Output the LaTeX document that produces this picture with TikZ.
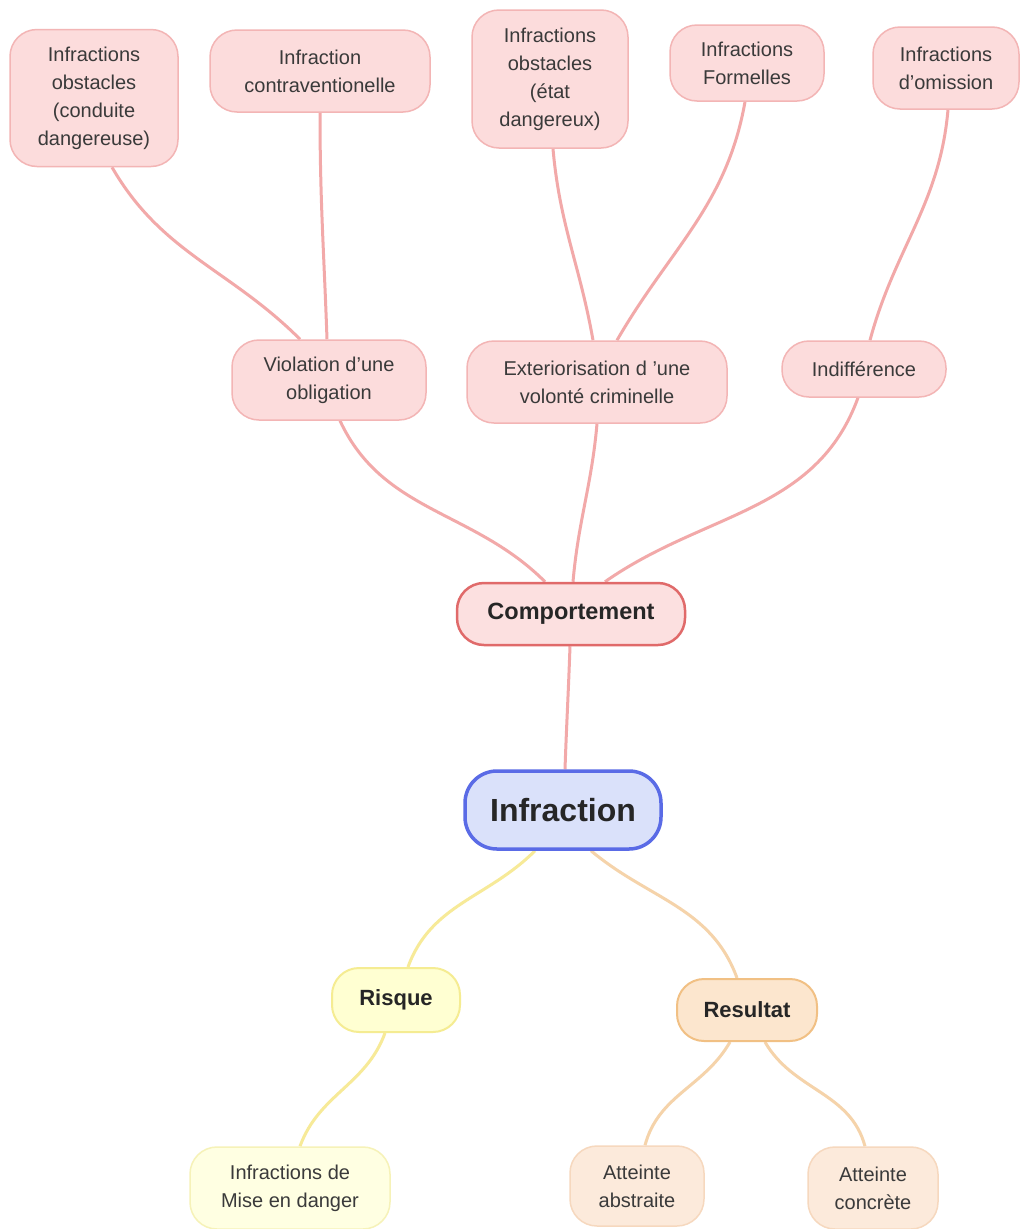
\documentclass[tikz,border=0pt]{standalone}
\usepackage{fontspec}
\setmainfont{Liberation Sans}
\usetikzlibrary{backgrounds}
\definecolor{pinkfill}{HTML}{FCDCDC}
\definecolor{pinkdraw}{HTML}{F3B5B5}
\definecolor{pinkedge}{HTML}{F2A9A9}
\definecolor{compdraw}{HTML}{E06A6A}
\definecolor{compfill}{HTML}{FCE0E0}
\definecolor{infill}{HTML}{DAE1FA}
\definecolor{indraw}{HTML}{5A6BE6}
\definecolor{yelfill}{HTML}{FFFFD2}
\definecolor{yeldraw}{HTML}{F5EC92}
\definecolor{yeledge}{HTML}{F7EA98}
\definecolor{orafill}{HTML}{FCE6CE}
\definecolor{oradraw}{HTML}{F1C084}
\definecolor{oraedge}{HTML}{F5D3AA}
\definecolor{atfill}{HTML}{FCEADB}
\definecolor{atdraw}{HTML}{F6D8BE}
\definecolor{misefill}{HTML}{FFFFE2}
\definecolor{misedraw}{HTML}{F6F2B8}
\definecolor{txt}{HTML}{3A3A3A}
\begin{document}
\begin{tikzpicture}[x=1pt,y=-1pt,
  box/.style={rounded corners=27pt, align=center, inner sep=0pt, line width=1.5pt,
    font=\fontsize{20}{28}\selectfont, text=txt},
  leaf/.style={box, fill=pinkfill, draw=pinkdraw},
  head/.style={box, font=\fontsize{22}{28}\selectfont\bfseries, text=black!85},
  pe/.style={draw=pinkedge, line width=3pt},
  ye/.style={draw=yeledge, line width=3pt},
  oe/.style={draw=oraedge, line width=3pt}]
\useasboundingbox (0,0) rectangle (1022,1229);

% Nodes
\node[leaf, minimum width=168pt, minimum height=137pt] (oc) at (94,98) {Infractions\\obstacles\\(conduite\\dangereuse)};
\node[leaf, minimum width=220pt, minimum height=82pt] (ct) at (320,71) {Infraction\\contraventionelle};
\node[leaf, minimum width=156pt, minimum height=138pt] (oe) at (550,79) {Infractions\\obstacles\\(état\\dangereux)};
\node[leaf, minimum width=154pt, minimum height=76pt] (fo) at (747,63) {Infractions\\Formelles};
\node[leaf, minimum width=146pt, minimum height=82pt] (om) at (946,68) {Infractions\\d’omission};
\node[leaf, minimum width=194pt, minimum height=80pt] (vi) at (329,380) {Violation d’une\\obligation};
\node[leaf, minimum width=260pt, minimum height=82pt] (ex) at (597,382) {Exteriorisation d ’une\\volonté criminelle};
\node[leaf, minimum width=164pt, minimum height=56pt] (in) at (864,369) {Indifférence};
\node[head, fill=compfill, draw=compdraw, line width=2.5pt, minimum width=228pt, minimum height=62pt,
  font=\fontsize{23.5}{28}\selectfont\bfseries] (co) at (571,614) {Comportement};
\node[head, fill=infill, draw=indraw, line width=3.5pt, minimum width=196pt, minimum height=78pt, rounded corners=32pt,
  font=\fontsize{32}{36}\selectfont\bfseries] (inf) at (563,810) {Infraction};
\node[head, fill=yelfill, draw=yeldraw, line width=2pt, minimum width=128pt, minimum height=64pt] (ri) at (396,1000) {Risque};
\node[head, fill=orafill, draw=oradraw, line width=2pt, minimum width=140pt, minimum height=62pt] (re) at (747,1010) {Resultat};
\node[box, fill=misefill, draw=misedraw, minimum width=200pt, minimum height=82pt] (mi) at (290,1188) {Infractions de\\Mise en danger};
\node[box, fill=atfill, draw=atdraw, minimum width=134pt, minimum height=80pt] (ab) at (637,1186) {Atteinte\\abstraite};
\node[box, fill=atfill, draw=atdraw, minimum width=130pt, minimum height=82pt] (cc) at (873,1188) {Atteinte\\concrète};

% Edges (behind nodes)
\begin{scope}[on background layer]
\fill[white] (0,0) rectangle (1022,1229);
\draw[pe] (inf.north) ++(2pt,0) to[out=88,in=-92] ([xshift=-1pt]co.south);
\draw[pe] ([xshift=-26pt]co.north) to[out=135,in=-65] ([xshift=11pt]vi.south);
\draw[pe] ([xshift=2pt]co.north) to[out=85,in=-95] (ex.south);
\draw[pe] ([xshift=34pt]co.north) to[out=35,in=-110] ([xshift=-6pt]in.south);
\draw[pe] ([xshift=-29pt]vi.north) to[out=135,in=-60] ([xshift=18pt]oc.south);
\draw[pe] ([xshift=-2pt]vi.north) to[out=92,in=-90] (ct.south);
\draw[pe] ([xshift=-4pt]ex.north) to[out=100,in=-85] ([xshift=3pt]oe.south);
\draw[pe] ([xshift=20pt]ex.north) to[out=60,in=-100] ([xshift=-2pt]fo.south);
\draw[pe] ([xshift=6pt]in.north) to[out=75,in=-95] ([xshift=2pt]om.south);
\draw[ye] ([xshift=-28pt]inf.south) to[out=-135,in=70] ([xshift=12pt]ri.north);
\draw[oe] ([xshift=28pt]inf.south) to[out=-40,in=110] ([xshift=-10pt]re.north);
\draw[ye] ([xshift=-11pt]ri.south) to[out=-110,in=70] ([xshift=10pt]mi.north);
\draw[oe] ([xshift=-17pt]re.south) to[out=-120,in=75] ([xshift=8pt]ab.north);
\draw[oe] ([xshift=18pt]re.south) to[out=-60,in=105] ([xshift=-8pt]cc.north);
\end{scope}
\end{tikzpicture}
\end{document}
